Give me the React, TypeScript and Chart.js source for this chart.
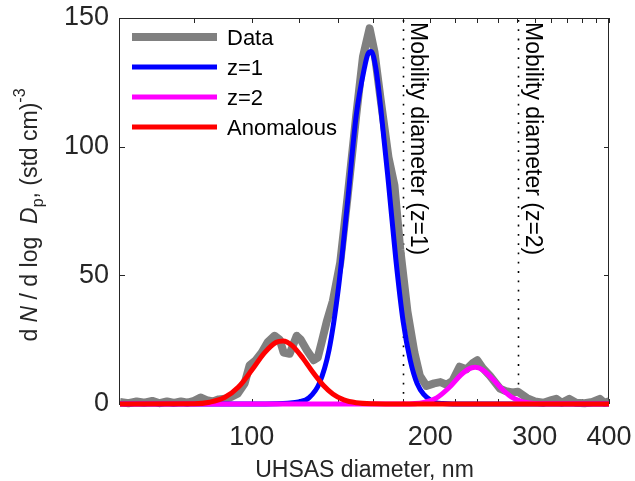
import React, { useEffect, useRef } from 'react';
import { Chart, registerables } from 'chart.js';

Chart.register(...registerables);

// ---- Data ----
const dataDiam = [60, 62, 64, 66, 68, 70, 72, 74, 76, 78, 80, 82, 84, 86, 88, 90, 92, 94.7, 97.3, 99.2,
  101.6, 104, 106.4, 109.3, 111.5, 113.2, 115.9, 119.1, 121, 123.8, 127.2, 129.2, 131.2, 133.8, 137, 141, 145, 150, 154, 158,
  161, 165, 170, 174, 178, 183, 188, 192, 197, 203, 208, 213, 218, 224, 230, 236, 240, 245, 252, 258,
  262, 268, 275, 281, 291, 300, 310, 320, 326, 333, 343, 352, 364, 375, 386, 393, 400];
const dataConc = [0.8, 0.3, 1.0, 0.5, 1.2, 0.3, 1.0, 0.4, 1.0, 0.5, 1.2, 2.5, 1.5, 1.0, 1.8, 2.0, 2.5, 4, 8, 15,
  17, 20, 24, 26.5, 25, 20, 19.5, 26.5, 25, 21, 17, 18, 24, 32, 40, 55, 80, 112, 135, 146,
  137, 118, 96, 85, 60, 36, 20, 11, 7, 8, 8.5, 7.5, 9, 14.5, 13.5, 16, 17, 14, 11, 8,
  6, 5, 4.5, 4.8, 2.3, 1, 0.5, 1.5, 2, 0.5, 2, 0.5, 0.3, 0.8, 2, 0.5, 1];

const z1Diam = [60, 100, 110, 115, 120, 125, 130, 135, 140, 145, 150, 155, 157, 159, 162, 165, 170, 175, 180, 185, 190, 200, 210, 230, 400];
const z1Conc = [0, 0, 0.1, 0.3, 0.8, 2.5, 8, 21, 45, 78, 112, 131, 136, 137, 130, 115, 86, 56, 32, 17, 8, 1.5, 0.2, 0, 0];

const z2Diam = [60, 180, 195, 205, 215, 225, 232, 238, 245, 255, 265, 275, 290, 310, 400];
const z2Conc = [0, 0, 0.6, 2.4, 6.3, 11.2, 13.6, 14.3, 13.3, 9.6, 5.5, 2.5, 0.6, 0.05, 0];

const anomDiam = [60, 80, 85, 90, 95, 100, 105, 110, 113, 117, 122, 127, 132, 137, 143, 150, 160, 180, 400];
const anomConc = [0, 0.1, 0.7, 2.5, 6.6, 13.1, 19.8, 24, 24.5, 22.7, 17.8, 12.1, 7.3, 3.9, 1.6, 0.5, 0.1, 0, 0];

const mobilityDiam = [180, 281];
const mobilityLabels = ['Mobility diameter (z=1)', 'Mobility diameter (z=2)'];

const xTickLabels = [100, 200, 300, 400];
const xMinorTicks = [80, 100, 120, 140, 160, 180, 200, 220, 240, 260, 280, 300, 320, 340, 360, 380, 400];
const yTicks = [0, 50, 100, 150];

const seriesNames = ['Data', 'z=1', 'z=2', 'Anomalous'];
const seriesColors = ['#808080', '#0000ff', '#ff00ff', '#ff0000'];
const seriesWidths = [8, 5, 5, 5];

const FONT = '"Liberation Sans", Arial, Helvetica, sans-serif';
const AXIS_COLOR = '#262626';

const toPoints = (xs: number[], ys: number[]) => xs.map((x, i) => ({ x, y: ys[i] }));

const decorPlugin = {
  id: 'decor',
  beforeDatasetsDraw(chart: any) {
    const { ctx, chartArea: ca, scales } = chart;
    const x = scales.x;
    const y = scales.y;
    ctx.save();
    // frame
    ctx.strokeStyle = AXIS_COLOR;
    ctx.lineWidth = 1;
    ctx.strokeRect(ca.left - 0.5, ca.top + 0.5, ca.right - ca.left, ca.bottom - ca.top);
    // inward ticks
    ctx.beginPath();
    const tl = 5;
    xMinorTicks.forEach((d) => {
      const px = Math.round(x.getPixelForValue(d)) + 0.5;
      ctx.moveTo(px, ca.bottom);
      ctx.lineTo(px, ca.bottom - tl);
      ctx.moveTo(px, ca.top);
      ctx.lineTo(px, ca.top + tl);
    });
    yTicks.forEach((v) => {
      const py = Math.round(y.getPixelForValue(v)) + 0.5;
      ctx.moveTo(ca.left, py);
      ctx.lineTo(ca.left + tl, py);
      ctx.moveTo(ca.right, py);
      ctx.lineTo(ca.right - tl, py);
    });
    ctx.stroke();
    // dotted mobility lines + labels
    mobilityDiam.forEach((d, i) => {
      const px = Math.round(x.getPixelForValue(d)) + 0.5;
      ctx.save();
      ctx.strokeStyle = '#000';
      ctx.lineWidth = 1.6;
      ctx.setLineDash([1.8, 7.5]);
      ctx.beginPath();
      ctx.moveTo(px, ca.top + 2);
      ctx.lineTo(px, ca.bottom);
      ctx.stroke();
      ctx.restore();
      ctx.save();
      ctx.translate(px + 7, ca.top + 4);
      ctx.rotate(Math.PI / 2);
      ctx.fillStyle = '#000';
      ctx.font = `23px ${FONT}`;
      ctx.textAlign = 'left';
      ctx.textBaseline = 'alphabetic';
      ctx.fillText(mobilityLabels[i], 0, 0);
      ctx.restore();
    });
    ctx.restore();
  },
  afterDatasetsDraw(chart: any) {
    const { ctx, chartArea: ca } = chart;
    ctx.save();
    // legend
    seriesNames.forEach((name, i) => {
      const cy = ca.top + 19 + i * 30;
      ctx.strokeStyle = seriesColors[i];
      ctx.lineWidth = seriesWidths[i];
      ctx.lineCap = 'butt';
      ctx.beginPath();
      ctx.moveTo(ca.left + 12, cy);
      ctx.lineTo(ca.left + 97, cy);
      ctx.stroke();
      ctx.fillStyle = '#000';
      ctx.font = `22px ${FONT}`;
      ctx.textAlign = 'left';
      ctx.textBaseline = 'alphabetic';
      ctx.fillText(name, ca.left + 107, cy + 8);
    });
    // x title
    ctx.fillStyle = AXIS_COLOR;
    ctx.font = `23px ${FONT}`;
    ctx.textAlign = 'center';
    ctx.textBaseline = 'alphabetic';
    ctx.fillText('UHSAS diameter, nm', (ca.left + ca.right) / 2, 477);
    // y title with italic / sub / superscripts
    const parts = [
      { t: 'd ', f: `23px ${FONT}`, dy: 0 },
      { t: 'N', f: `italic 23px ${FONT}`, dy: 0 },
      { t: ' / d log  ', f: `23px ${FONT}`, dy: 0 },
      { t: 'D', f: `italic 23px ${FONT}`, dy: 0 },
      { t: 'p', f: `16px ${FONT}`, dy: 6 },
      { t: ', (std cm)', f: `23px ${FONT}`, dy: 0 },
      { t: '-3', f: `16px ${FONT}`, dy: -12 },
    ];
    let total = 0;
    const widths = parts.map((p) => {
      ctx.font = p.f;
      const w = ctx.measureText(p.t).width;
      total += w;
      return w;
    });
    ctx.save();
    ctx.translate(37, (ca.top + ca.bottom) / 2 + 4);
    ctx.rotate(-Math.PI / 2);
    ctx.textAlign = 'left';
    let cx = -total / 2;
    parts.forEach((p, i) => {
      ctx.font = p.f;
      ctx.fillText(p.t, cx, p.dy);
      cx += widths[i];
    });
    ctx.restore();
    ctx.restore();
  },
};

const zeroPad = (s: any) => {
  s.paddingLeft = 0;
  s.paddingRight = 0;
  s.paddingTop = 0;
  s.paddingBottom = 0;
};

export default function App() {
  const canvasRef = useRef<HTMLCanvasElement | null>(null);

  useEffect(() => {
    const canvas = canvasRef.current;
    if (!canvas) return;
    const mk = (i: number, xs: number[], ys: number[], order: number, smooth: boolean) => ({
      label: seriesNames[i],
      data: toPoints(xs, ys),
      borderColor: seriesColors[i],
      backgroundColor: seriesColors[i],
      borderWidth: seriesWidths[i],
      pointRadius: 0,
      fill: false,
      order,
      borderJoinStyle: 'round' as const,
      tension: smooth ? 0.4 : 0,
      cubicInterpolationMode: smooth ? ('monotone' as const) : ('default' as const),
      clip: { left: 0, right: 0, top: 10, bottom: 10 },
    });
    const chart = new Chart(canvas, {
      type: 'line',
      data: {
        datasets: [
          mk(0, dataDiam, dataConc, 4, false),
          mk(1, z1Diam, z1Conc, 3, true),
          mk(2, z2Diam, z2Conc, 2, true),
          mk(3, anomDiam, anomConc, 1, true),
        ] as any,
      },
      options: {
        animation: false,
        responsive: false,
        events: [],
        layout: { padding: { top: 18, right: 26, left: 0, bottom: 0 } },
        plugins: { legend: { display: false }, tooltip: { enabled: false } },
        scales: {
          x: {
            type: 'logarithmic',
            min: 60,
            max: 400,
            afterBuildTicks: (s: any) => {
              s.ticks = xTickLabels.map((v) => ({ value: v }));
            },
            afterFit: (s: any) => {
              s.height = 77;
              zeroPad(s);
            },
            ticks: {
              autoSkip: false,
              maxRotation: 0,
              minRotation: 0,
              padding: 17,
              color: AXIS_COLOR,
              font: { family: FONT, size: 27 },
              callback: (v: any) => String(v),
            },
            grid: { display: false, drawTicks: false },
            border: { display: false },
          },
          y: {
            min: 0,
            max: 150,
            afterBuildTicks: (s: any) => {
              s.ticks = yTicks.map((v) => ({ value: v }));
            },
            afterFit: (s: any) => {
              s.width = 120;
              zeroPad(s);
            },
            ticks: {
              padding: 11,
              color: AXIS_COLOR,
              font: { family: FONT, size: 27 },
              callback: (v: any) => String(v),
            },
            grid: { display: false, drawTicks: false },
            border: { display: false },
          },
        },
      } as any,
      plugins: [decorPlugin],
    });
    return () => chart.destroy();
  }, []);

  return (
    <div style={{ position: 'fixed', left: 0, top: 0, width: 635, height: 481, background: '#fff' }}>
      <canvas ref={canvasRef} width={635} height={481} style={{ width: 635, height: 481, display: 'block' }} />
    </div>
  );
}
